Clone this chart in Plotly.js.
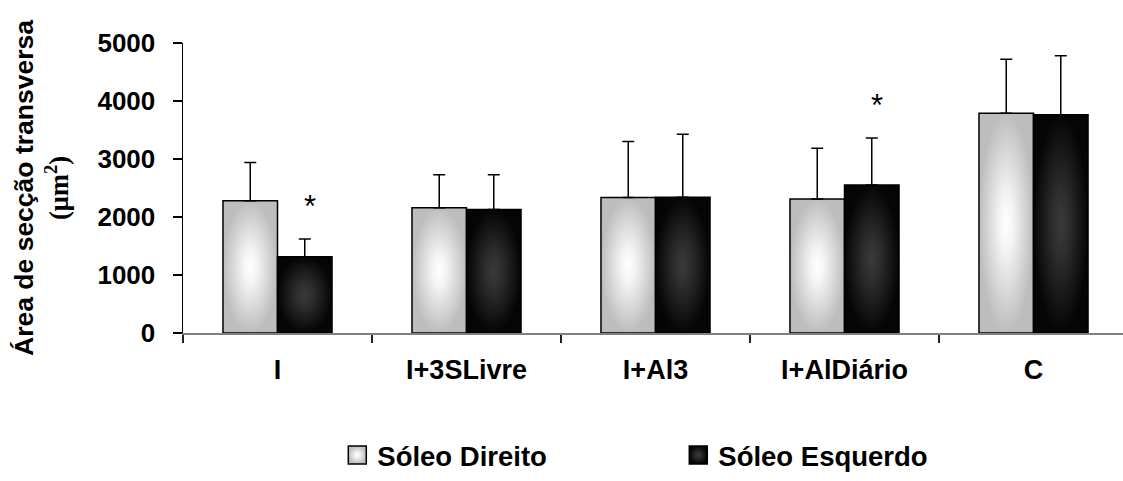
<!DOCTYPE html>
<html>
<head>
<meta charset="utf-8">
<script src="https://cdn.plot.ly/plotly-3.0.1.min.js"></script>
<style>
  html, body { margin: 0; padding: 0; background: #fff; }
  #chart { width: 1123px; height: 481px; }
</style>
</head>
<body>
<div id="chart"></div>
<script>
// Cross-sectional area of soleus fibres per group (mean and SD, µm²)
const categories = ['I', 'I+3SLivre', 'I+Al3', 'I+AlDiário', 'C'];
const direito = [2280, 2160, 2335, 2310, 3790];
const direitoSD = [660, 570, 965, 875, 930];
const esquerdo = [1315, 2130, 2340, 2550, 3765];
const esquerdoSD = [305, 600, 1085, 810, 1015];
// groups where the left soleus differs significantly
const esquerdoSig = [true, false, false, true, false];
const seriesNames = ['Sóleo Direito', 'Sóleo Esquerdo'];
const yTicks = [0, 1000, 2000, 3000, 4000, 5000];

const FONT = 'Liberation Sans, Arial, sans-serif';

function barTrace(name, values, sd, color) {
  return {
    type: 'bar',
    name: name,
    x: categories,
    y: values,
    marker: { color: color, line: { color: '#000', width: 1.5 } },
    error_y: {
      type: 'data', symmetric: false,
      array: sd, arrayminus: sd.map(() => 0),
      color: '#000', thickness: 1.5, width: 6
    },
    hoverinfo: 'skip'
  };
}

const data = [
  barTrace(seriesNames[0], direito, direitoSD, '#d9d9d9'),
  barTrace(seriesNames[1], esquerdo, esquerdoSD, '#1a1a1a')
];

const annotations = [];
esquerdoSig.forEach((sig, i) => {
  if (!sig) return;
  annotations.push({
    x: categories[i], y: esquerdo[i] + esquerdoSD[i],
    xref: 'x', yref: 'y',
    text: '*', showarrow: false,
    xshift: 32, yshift: 13, yanchor: 'bottom',
    font: { family: FONT, size: 31, color: '#000' }
  });
});

const layout = {
  width: 1123, height: 481,
  margin: { l: 183, r: 0, t: 43, b: 148 },
  paper_bgcolor: '#fff', plot_bgcolor: '#fff',
  font: { family: FONT, color: '#000' },
  barmode: 'group',
  bargap: 0.423, bargroupgap: 0,
  showlegend: true,
  legend: {
    orientation: 'h',
    xref: 'container', yref: 'container',
    x: 0.604, xanchor: 'center',
    y: 0.054, yanchor: 'middle',
    entrywidth: 296,
    font: { family: FONT, size: 27.5, weight: 'bold', color: '#000' },
    traceorder: 'normal'
  },
  xaxis: {
    type: 'category',
    range: [-0.5, 4.4735],
    tickson: 'boundaries',
    ticks: 'outside', ticklen: 8, tickwidth: 1.5, tickcolor: '#222',
    showline: true, linecolor: '#808080', linewidth: 2,
    showgrid: false, zeroline: false,
    ticklabelstandoff: 12,
    tickfont: { family: FONT, size: 27, weight: 'bold', color: '#000' },
    fixedrange: true
  },
  yaxis: {
    range: [0, 5000],
    tickvals: yTicks,
    ticktext: yTicks.map(String),
    ticks: 'outside', ticklen: 9, tickwidth: 1.5, tickcolor: '#000',
    showline: true, linecolor: '#000', linewidth: 1.5,
    showgrid: false, zeroline: false,
    ticklabelstandoff: 12,
    tickfont: { family: FONT, size: 26, weight: 'bold', color: '#000' },
    title: {
      text: 'Área de secção transversa<br><span style="font-family:Liberation Serif,Times New Roman,serif">(μm<sup>2</sup>)</span>',
      font: { family: FONT, size: 26.5, weight: 'bold', color: '#000' },
      standoff: 21
    },
    fixedrange: true
  },
  annotations: annotations
};

// Centre-out shading for the bars and legend swatches
function applyShading(gd) {
  const svgNS = 'http://www.w3.org/2000/svg';
  const svg = gd.querySelector('svg.main-svg');
  let defs = svg.querySelector('defs');
  if (!defs) { defs = document.createElementNS(svgNS, 'defs'); svg.insertBefore(defs, svg.firstChild); }
  const grads = [
    { id: 'shadeLight', stops: [['0', '#ffffff'], ['0.25', '#f4f4f4'], ['1', '#bdbdbd']] },
    { id: 'shadeDark', stops: [['0', '#3a3a3a'], ['0.3', '#2e2e2e'], ['1', '#050505']] }
  ];
  grads.forEach(g => {
    if (defs.querySelector('#' + g.id)) return;
    const rg = document.createElementNS(svgNS, 'radialGradient');
    rg.setAttribute('id', g.id);
    rg.setAttribute('cx', '0.5'); rg.setAttribute('cy', '0.5'); rg.setAttribute('r', '0.5');
    g.stops.forEach(([off, col]) => {
      const s = document.createElementNS(svgNS, 'stop');
      s.setAttribute('offset', off);
      s.setAttribute('stop-color', col);
      rg.appendChild(s);
    });
    defs.appendChild(rg);
  });
  const traces = gd.querySelectorAll('.barlayer .trace.bars');
  traces.forEach((t, i) => {
    t.querySelectorAll('.point path').forEach(p => { p.style.fill = 'url(#' + grads[i].id + ')'; });
  });
  // larger legend swatches
  const legendItems = gd.querySelectorAll('.legend .traces');
  legendItems.forEach((t, i) => {
    t.querySelectorAll('.legendpoints path').forEach(p => {
      p.setAttribute('d', 'M9,9H-9V-9H9Z');
      p.style.fill = 'url(#' + grads[i].id + ')';
    });
  });
}

const gd = document.getElementById('chart');
Plotly.newPlot(gd, data, layout, { staticPlot: true, displayModeBar: false })
  .then(() => applyShading(gd));
</script>
</body>
</html>
